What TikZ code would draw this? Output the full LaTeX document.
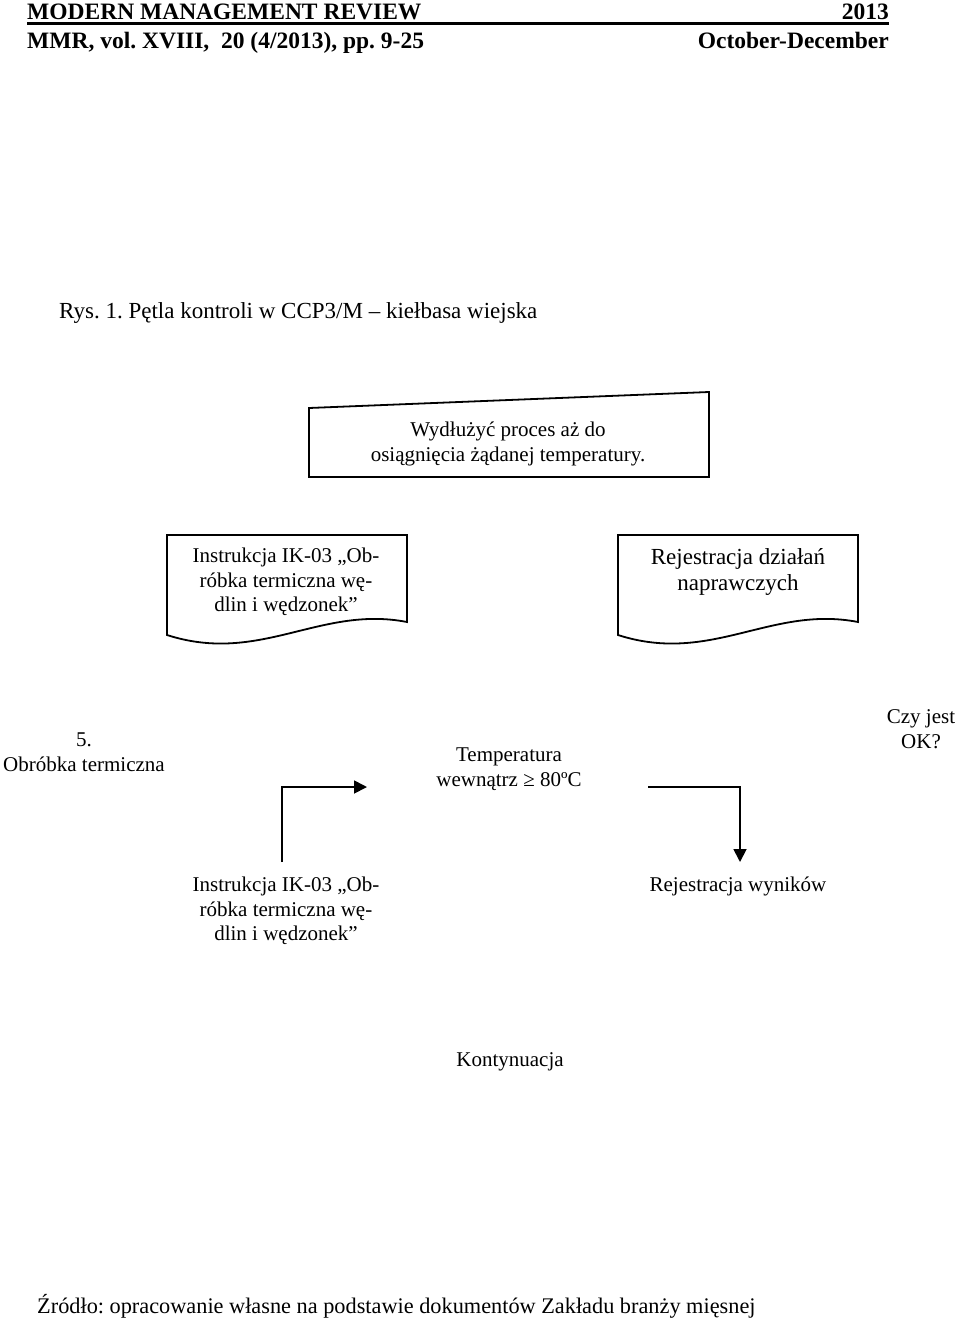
\documentclass[tikz,border=0pt]{standalone}
\usepackage{fontspec}
\setmainfont{Liberation Serif}
\usetikzlibrary{arrows.meta}
\frenchspacing
\tikzset{
  txt/.style={align=center,inner sep=0pt,font=\fontsize{21}{24.5}\selectfont},
  big/.style={align=center,inner sep=0pt,font=\fontsize{23}{26}\selectfont},
  head/.style={inner sep=0pt,font=\bfseries\fontsize{23.5}{23.5}\selectfont},
  box/.style={line width=1.8pt},
  arr/.style={line width=1.8pt,-{Triangle[length=13pt,width=13pt]}}
}
\begin{document}
\begin{tikzpicture}[x=1pt,y=-1pt]
\useasboundingbox (0,0) rectangle (960,1323);
\node[head,anchor=base west] (mmr) at (27,19) {MODERN MANAGEMENT REVIEW};
\node[head,anchor=base east] (year) at (889,19) {2013};
\draw[line width=3pt] (mmr.base west) ++(0,4.5) coordinate (r1) -- (r1 -| year.east);
\node[head,anchor=base west] (vol) at (27,48) {MMR, vol. XVIII,\ \ 20 (4/2013), pp. 9-25};
\node[head,anchor=base east] (month) at (889,48) {October-December};
\node[big,anchor=west] (rys) at (59,313) {Rys. 1. Pętla kontroli w CCP3/M – kiełbasa wiejska};
\draw[box] (309,408) -- (709,392) -- (709,477) -- (309,477) -- cycle;
\node[txt] (wydl) at (508,444) {Wydłużyć proces aż do\\osiągnięcia żądanej temperatury.};
\draw[box] (167,535) -- (407,535) -- (407,622) .. controls (320,605) and (260,665) .. (167,635) -- cycle;
\node[txt] (instr1) at (286,582) {Instrukcja IK-03 „Ob-\\róbka termiczna wę-\\dlin i wędzonek”};
\draw[box,shift={(451,0)}] (167,535) -- (407,535) -- (407,622) .. controls (320,605) and (260,665) .. (167,635) -- cycle;
\node[big] (rejdz) at (738,572) {Rejestracja działań\\naprawczych};
\node[txt] (obr) at (84,752) {5.\\Obróbka termiczna};
\node[txt] (temp) at (509,769) {Temperatura\\wewnątrz ≥ 80ºC};
\node[txt] (czy) at (921,729) {Czy jest\\OK?};
\coordinate (a1) at (282,862);
\coordinate (a2) at (367,787);
\coordinate (b1) at (648,787);
\coordinate (b2) at (740,862);
\draw[arr] (a1) |- (a2);
\draw[arr] (b1) -| (b2);
\node[txt] (instr2) at (286,911) {Instrukcja IK-03 „Ob-\\róbka termiczna wę-\\dlin i wędzonek”};
\node[txt] (rejwy) at (738,886) {Rejestracja wyników};
\node[txt] (kont) at (510,1062) {Kontynuacja};
\node[big,anchor=west,font=\fontsize{22.3}{26}\selectfont] (zrodlo) at (37,1306) {Źródło: opracowanie własne na podstawie dokumentów Zakładu branży mięsnej};
\end{tikzpicture}
\end{document}
